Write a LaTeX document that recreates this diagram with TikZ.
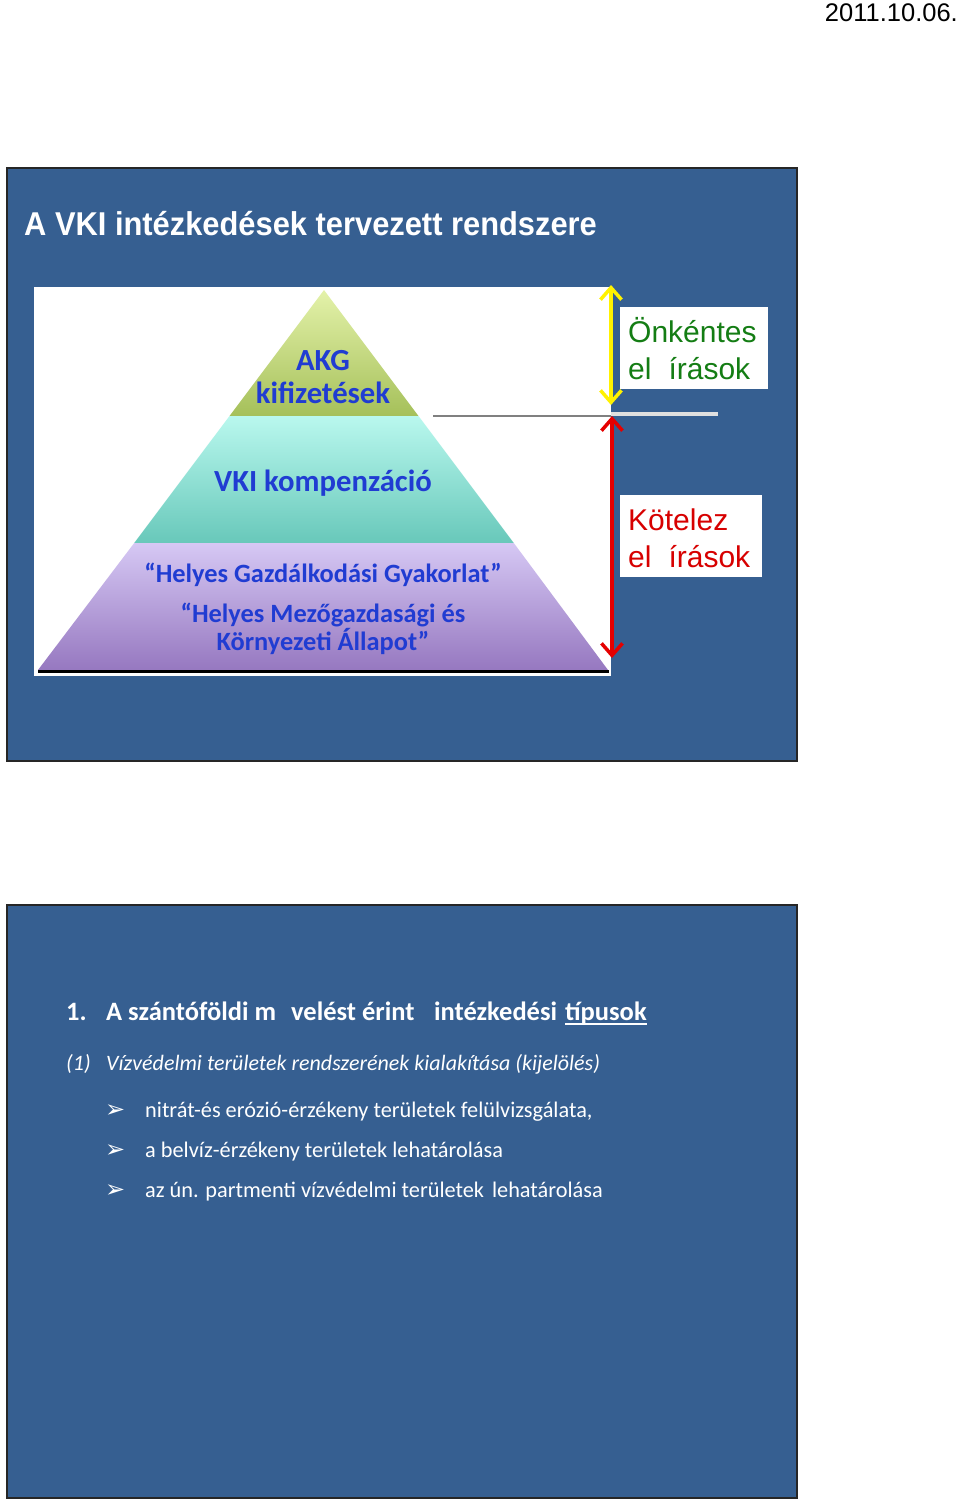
\documentclass[tikz,border=0pt]{standalone}
\usepackage{fontspec}
\setmainfont{Liberation Sans}
\newfontfamily\calib{Carlito}
\newfontfamily\dejav{DejaVu Sans}
\usetikzlibrary{arrows.meta}
\definecolor{slidebg}{RGB}{54,95,145}
\definecolor{pyrblue}{RGB}{32,60,210}
\definecolor{okgreen}{RGB}{20,125,20}
\definecolor{kred}{RGB}{215,0,0}
\tikzset{
  slide/.style={fill=slidebg, draw=black!85, line width=2pt},
  pyrtext/.style={text=pyrblue, font=\calib\bfseries\fontsize{30.7}{35}\selectfont, anchor=base, inner sep=0pt},
  pyrsmall/.style={text=pyrblue, font=\calib\bfseries\fontsize{26.4}{30}\selectfont, anchor=base, inner sep=0pt},
  sidebox/.style={fill=white, draw=none, minimum width=148pt, minimum height=82pt, inner sep=0pt},
  sidetext/.style={font=\fontsize{30}{35}\selectfont, anchor=base west, inner sep=0pt},
  dblarrow/.style={line width=3.5pt, {Straight Barb[length=12pt,width=21pt]}-{Straight Barb[length=12pt,width=21pt]}},
  bodytext/.style={text=white, anchor=base west, inner sep=0pt},
  headtext/.style={bodytext, font=\calib\bfseries\fontsize{26.5}{31}\selectfont},
  bullettext/.style={bodytext, font=\calib\fontsize{22.3}{26}\selectfont},
  bulletmark/.style={bodytext, font=\dejav\fontsize{24}{28}\selectfont},
}
\begin{document}
\begin{tikzpicture}[x=1pt,y=-1pt]
\useasboundingbox (0,0) rectangle (960,1505);
\fill[white] (0,0) rectangle (960,1505);

% date
\node[anchor=base east, inner sep=0pt, font=\fontsize{25.5}{28}\selectfont] (date) at (958,21) {2011.10.06.};

% ---------- slide 1 ----------
\draw[slide] (7,168) rectangle (797,761);
\node[bodytext, font=\bfseries\fontsize{33}{38}\selectfont, xscale=0.935] (title) at (24,235) {A VKI intézkedések tervezett rendszere};

% white panel
\fill[white] (34,287) rectangle (611,676);

% pyramid sections
\shade[top color={rgb,255:red,228;green,242;blue,170}, bottom color={rgb,255:red,165;green,192;blue,90}]
  (324,290) -- (418.5,416) -- (229.5,416) -- cycle;
\shade[top color={rgb,255:red,185;green,248;blue,238}, bottom color={rgb,255:red,104;green,200;blue,186}]
  (229.5,416) -- (418.5,416) -- (513.8,543) -- (134.2,543) -- cycle;
\shade[top color={rgb,255:red,214;green,200;blue,244}, bottom color={rgb,255:red,150;green,120;blue,192}]
  (134.2,543) -- (513.8,543) -- (608,670) -- (38,670) -- cycle;
\draw[black, line width=3pt] (38,671.5) -- (609,671.5);

\node[pyrtext] (akg) at (323,370) {AKG};
\node[pyrtext] (kifiz) at (323,403) {kifizetések};
\node[pyrtext] (vki) at (323,491) {VKI kompenzáció};
\node[pyrsmall] (hgy) at (323,582) {“Helyes Gazdálkodási Gyakorlat”};
\node[pyrsmall] (hma) at (323,622) {“Helyes Mezőgazdasági és};
\node[pyrsmall] (kall) at (323,650) {Környezeti Állapot”};

% divider line
\coordinate (divA) at (433,416);
\coordinate (divB) at (611,416);
\coordinate (divC) at (718,414);
\draw[gray, line width=2pt] (divA) -- (divB);
\draw[black!12, line width=4pt] (611,414) -- (divC);

% arrows
\coordinate (yTop) at (611,285);
\coordinate (yBot) at (611,405);
\coordinate (rTop) at (612,416);
\coordinate (rBot) at (612,658);
\draw[dblarrow, yellow] (yTop) -- (yBot);
\draw[dblarrow, red!90!black] (rTop) -- (rBot);

% side boxes
\node[sidebox, anchor=north west, minimum width=148pt] (onbox) at (620,307) {};
\node[sidetext, text=okgreen] (on1) at (628,342) {Önkéntes};
\node[sidetext, text=okgreen] (on2) at (628,379) {el\hspace{17pt}írások};
\node[sidebox, anchor=north west, minimum width=142pt] (kobox) at (620,495) {};
\node[sidetext, text=kred] (ko1) at (628,530) {Kötelez};
\node[sidetext, text=kred] (ko2) at (628,567) {el\hspace{17pt}írások};

% ---------- slide 2 ----------
\draw[slide] (7,905) rectangle (797,1498);
\node[headtext] (h1) at (66,1020) {1.};
\node[headtext] (h2) at (106,1020) {A szántóföldi m};
\node[headtext] (h3) at (291,1020) {velést érint};
\node[headtext] (h4) at (434,1020) {intézkedési};
\node[headtext] (h5) at (565,1020) {típusok};
\draw[white, line width=1.3pt] (h5.base west) ++(0,4) -- ([yshift=-4pt]h5.base east);

\node[bodytext, font=\calib\itshape\fontsize{22}{26}\selectfont] (p1) at (66,1070) {(1)};
\node[bodytext, font=\calib\itshape\fontsize{22}{26}\selectfont] (p2) at (106,1070) {Vízvédelmi területek rendszerének kialakítása (kijelölés)};

\node[bulletmark] (b1) at (105,1117) {➢};
\node[bullettext] (t1) at (145,1117) {nitrát-és erózió-érzékeny területek felülvizsgálata,};
\node[bulletmark] (b2) at (105,1157) {➢};
\node[bullettext] (t2) at (145,1157) {a belvíz-érzékeny területek lehatárolása};
\node[bulletmark] (b3) at (105,1197) {➢};
\node[bullettext] (t3) at (145,1197) {az ún. partmenti vízvédelmi területek\hspace{8pt}lehatárolása};
\end{tikzpicture}
\end{document}
